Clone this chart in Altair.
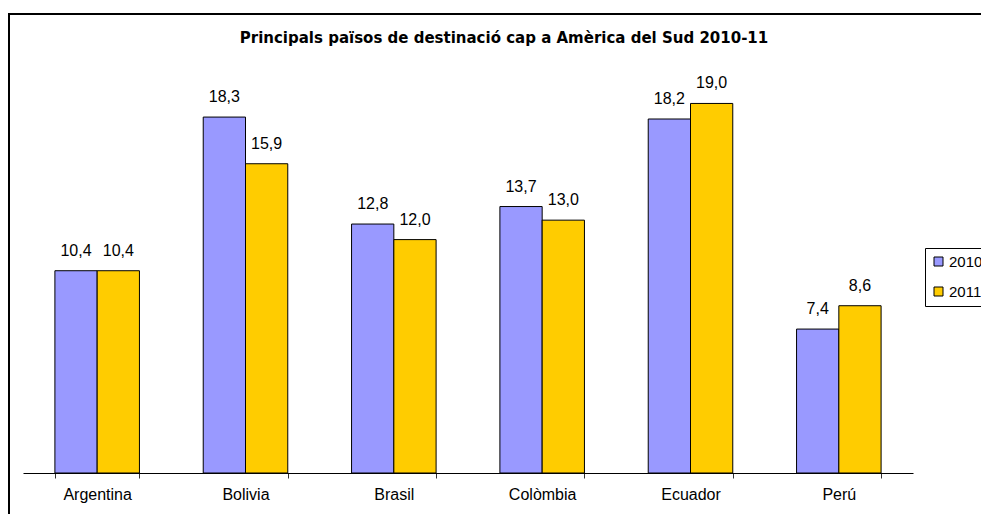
import altair as alt
import pandas as pd

countries = ["Argentina", "Bolivia", "Brasil", "Colòmbia", "Ecuador", "Perú"]
years = ["2010", "2011"]
v2010 = [10.4, 18.3, 12.8, 13.7, 18.2, 7.4]
v2011 = [10.4, 15.9, 12.0, 13.0, 19.0, 8.6]
colors = ["#9999FF", "#FFCC00"]
title_text = "Principals països de destinació cap a Amèrica del Sud 2010-11"

rows = []
for c, a, b in zip(countries, v2010, v2011):
    rows.append({"country": c, "year": years[0], "value": a})
    rows.append({"country": c, "year": years[1], "value": b})
df = pd.DataFrame(rows)

FONT = "Liberation Sans"

base = alt.Chart(df).transform_calculate(
    label="replace(format(datum.value, '.1f'), '.', ',')"
).encode(
    x=alt.X("country:N", sort=countries,
            scale=alt.Scale(paddingInner=0.43, paddingOuter=0.215),
            axis=alt.Axis(title=None, labelAngle=0, tickBand="extent",
                          domainColor="black", tickColor="#333333", tickSize=5,
                          labelFontSize=16, labelFont=FONT, labelColor="black",
                          labelPadding=8, grid=False)),
    xOffset=alt.XOffset("year:N", sort=years, scale=alt.Scale(paddingInner=0, paddingOuter=0)),
    y=alt.Y("value:Q", scale=alt.Scale(domain=[0, 20], nice=False), axis=None),
)

bars = base.mark_bar(stroke="black", strokeWidth=1).encode(
    color=alt.Color("year:N", sort=years,
                    scale=alt.Scale(domain=years, range=colors),
                    legend=alt.Legend(title=None, orient="none", legendX=902, legendY=164,
                                      strokeColor="black", padding=6, symbolType="square",
                                      symbolSize=81, symbolStrokeColor="black",
                                      symbolStrokeWidth=1, symbolOpacity=1,
                                      labelFontSize=15, labelFont=FONT, labelColor="black",
                                      labelOffset=3, rowPadding=14, fillColor="white"))
)

texts = base.mark_text(baseline="alphabetic", dy=-15, fontSize=16, font=FONT,
                       color="black").encode(text="label:N")

frame_df = pd.DataFrame({"a": [0]})
top_rule = alt.Chart(frame_df).mark_rule(color="black", strokeWidth=2).encode(
    x=alt.value(-16), x2=alt.value(960), y=alt.value(-70))
left_rule = alt.Chart(frame_df).mark_rule(color="black", strokeWidth=2).encode(
    x=alt.value(-14), y=alt.value(-71), y2=alt.value(430))

chart = alt.layer(bars, texts, top_rule, left_rule).properties(
    width=890, height=389,
    title=alt.TitleParams(title_text, fontSize=15, font="DejaVu Sans", fontWeight="bold",
                          anchor="middle", dx=36, offset=-34, color="black"),
    autosize=alt.AutoSizeParams(type="none"),
    padding={"left": 15, "top": 76, "right": 68, "bottom": 44},
).configure_view(stroke=None)

chart.save("out.html", embed_options={"renderer": "svg", "actions": False})
